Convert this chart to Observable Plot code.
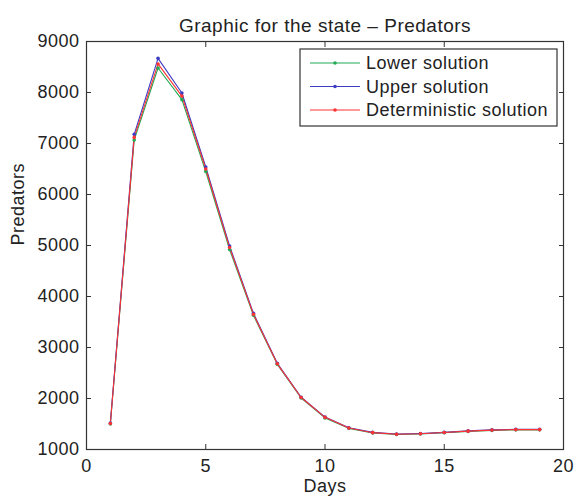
<!DOCTYPE html>
<html>
<head>
<meta charset="utf-8">
<script src="https://cdn.jsdelivr.net/npm/d3@7"></script>
<script src="https://cdn.jsdelivr.net/npm/@observablehq/plot@0.6"></script>
<style>
  html, body { margin: 0; padding: 0; background: #fff; }
  #chart { position: relative; width: 574px; height: 496px; }
  #chart svg { font-family: "Liberation Sans", Arial, sans-serif; letter-spacing: 0.5px; }
</style>
</head>
<body>
<div id="chart"></div>
<script>
const days = [1, 2, 3, 4, 5, 6, 7, 8, 9, 10, 11, 12, 13, 14, 15, 16, 17, 18, 19];
const lowerSolution = [1500, 7070, 8480, 7860, 6450, 4920, 3630, 2670, 2010, 1620, 1415, 1325, 1295, 1305, 1330, 1355, 1375, 1385, 1385];
const upperSolution = [1520, 7180, 8670, 7990, 6540, 4990, 3670, 2690, 2025, 1635, 1425, 1335, 1305, 1315, 1335, 1365, 1385, 1395, 1395];
const deterministicSolution = [1510, 7120, 8560, 7930, 6500, 4960, 3650, 2680, 2020, 1630, 1420, 1330, 1300, 1310, 1332, 1360, 1380, 1390, 1390];
const seriesNames = ["Lower solution", "Upper solution", "Deterministic solution"];
const seriesColors = ["#22aa55", "#3b3bc4", "#ff3333"];
const xTicks = [0, 5, 10, 15, 20];
const yTicks = [1000, 2000, 3000, 4000, 5000, 6000, 7000, 8000, 9000];

const seriesValues = [lowerSolution, upperSolution, deterministicSolution];
const data = seriesNames.flatMap((name, i) =>
  days.map((d, j) => ({ day: d, value: seriesValues[i][j], series: name }))
);

const axisColor = "#333";
const fontSize = 18;

const plot = Plot.plot({
  width: 574,
  height: 496,
  marginLeft: 86,
  marginRight: 11,
  marginTop: 41,
  marginBottom: 47,
  style: { fontSize: fontSize + "px", color: "#222", background: "#fff" },
  x: { domain: [0, 20], label: null },
  y: { domain: [1000, 9000], label: null },
  color: { domain: seriesNames, range: seriesColors },
  marks: [
    Plot.frame({ stroke: axisColor, strokeWidth: 1.2 }),
    Plot.axisX(xTicks, { anchor: "bottom", tickSize: -5, tickPadding: 15, stroke: axisColor, label: null, fontSize: fontSize, fill: "#222", tickFormat: d3.format("d") }),
    Plot.axisX(xTicks, { anchor: "top", tickSize: -5, stroke: axisColor, label: null, tickFormat: () => "" }),
    Plot.axisY(yTicks, { anchor: "left", tickSize: -5, tickPadding: 12, stroke: axisColor, label: null, fontSize: fontSize, fill: "#222", tickFormat: d3.format("d") }),
    Plot.axisY(yTicks, { anchor: "right", tickSize: -5, stroke: axisColor, label: null, tickFormat: () => "" }),
    Plot.line(data, { x: "day", y: "value", z: "series", stroke: "series", strokeWidth: 1.1 }),
    Plot.dot(data, { x: "day", y: "value", fill: "series", r: 1.8 }),
    Plot.text(["Graphic for the state – Predators"], { frameAnchor: "top", dy: -23, fontSize: 19, fill: "#222" }),
    Plot.text(["Days"], { frameAnchor: "bottom", dy: 42, fontSize: fontSize, fill: "#222" }),
    Plot.text(["Predators"], { frameAnchor: "left", dx: -68, rotate: -90, fontSize: fontSize, fill: "#222" })
  ]
});

document.getElementById("chart").appendChild(plot);

// Legend box (top-right inside plot)
const svg = d3.select(plot);
const lg = svg.append("g").attr("transform", "translate(300,49)");
lg.append("rect").attr("width", 257).attr("height", 77)
  .attr("fill", "#fff").attr("stroke", axisColor).attr("stroke-width", 1.2);
seriesNames.forEach((name, i) => {
  const y = 14 + i * 23.5;
  lg.append("line").attr("x1", 10).attr("x2", 60).attr("y1", y).attr("y2", y)
    .attr("stroke", seriesColors[i]).attr("stroke-width", 1.1);
  lg.append("circle").attr("cx", 35).attr("cy", y).attr("r", 1.8).attr("fill", seriesColors[i]);
  lg.append("text").attr("x", 66).attr("y", y).attr("dy", "0.35em")
    .attr("text-anchor", "start")
    .attr("font-size", 18).attr("fill", "#222").text(name);
});
</script>
</body>
</html>
